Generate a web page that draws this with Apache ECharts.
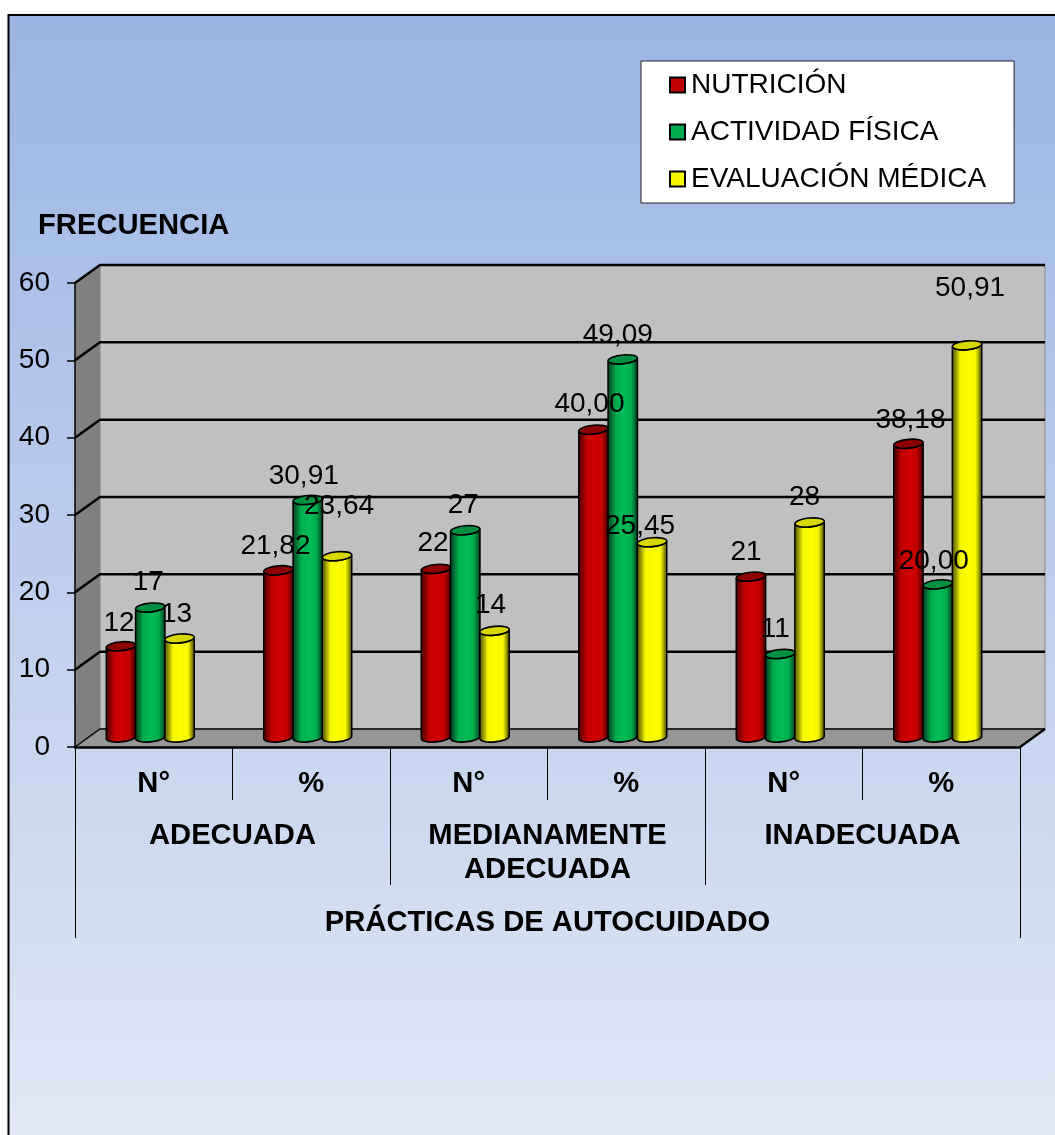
<!DOCTYPE html>
<html><head><meta charset="utf-8">
<style>html,body{margin:0;padding:0;background:#fff}#c{width:1055px;height:1135px}</style>
<script src="https://cdn.jsdelivr.net/npm/echarts@6/dist/echarts.min.js"></script>
</head><body><div id="c"></div>
<script>
const categories = ['N°','%','N°','%','N°','%'];
const groups = ['ADECUADA','MEDIANAMENTE\nADECUADA','INADECUADA'];
const axisTitle = ['PRÁCTICAS DE AUTOCUIDADO'];
const seriesNames = ['NUTRICIÓN','ACTIVIDAD FÍSICA','EVALUACIÓN MÉDICA'];
const nutricion = [12,21.82,22,40,21,38.18];
const actividad = [17,30.91,27,49.09,11,20];
const evaluacion = [13,23.64,14,25.45,28,50.91];
const yTicks = [10,20,30,40,50,60];

// styling tables (not data)
const FONT = '"Liberation Sans", Arial, sans-serif';
const looks = [
  {base:'#c00000', edge:'#6a0000', mid:'#d40000', cap:'#8e0000'},
  {base:'#00ad4e', edge:'#005c2c', mid:'#00bc58', cap:'#009040'},
  {base:'#f6f600', edge:'#7c7c00', mid:'#ffff00', cap:'#d8d800'}
];
const labelNudge = [
  [[-2,-23],[-3,-24],[-3,-26],[-4,-25],[-5,-24],[2,-23]],
  [[-2,-25],[-4,-24],[-2,-25],[-5,-24],[-5,-25],[-4,-23]],
  [[-3,-24],[2,-50],[-4,-25],[-12,-16],[-5,-25],[3,-57]]
];
const DEPTH_X = 25, DEPTH_Y = 18, BAR_SHIFT_X = -3.5, BAR_SHIFT_TOP = 8, BAR_SHIFT_BOT = 9.5;

function fmt(v, i){ return i % 2 ? v.toFixed(2).replace('.',',') : String(v); }

function wallItem(params, api){
  const r = params.coordSys;
  const x0=r.x, x1=r.x+r.width, top=r.y, bot=r.y+r.height;
  const poly=(pts,fill,stroke,lw)=>({type:'polygon',shape:{points:pts},style:{fill:fill,stroke:stroke||null,lineWidth:lw||0}});
  const line=(pts,lw)=>({type:'polyline',shape:{points:pts},style:{fill:null,stroke:'#000',lineWidth:lw}});
  return {type:'group',children:[
    poly([[x0+DEPTH_X,top-DEPTH_Y],[x1+DEPTH_X,top-DEPTH_Y],[x1+DEPTH_X,bot-DEPTH_Y],[x0+DEPTH_X,bot-DEPTH_Y]],'#c0c0c0','#8a8a8a',1),
    poly([[x0,top],[x0+DEPTH_X,top-DEPTH_Y],[x0+DEPTH_X,bot-DEPTH_Y],[x0,bot]],'#808080'),
    poly([[x0,bot],[x0+DEPTH_X,bot-DEPTH_Y],[x1+DEPTH_X,bot-DEPTH_Y],[x1,bot]],'#969696'),
    line([[x0,bot],[x0+DEPTH_X,bot-DEPTH_Y],[x1+DEPTH_X,bot-DEPTH_Y]],1.3),
    line([[x1+DEPTH_X,bot-DEPTH_Y],[x1,bot]],2.2)
  ]};
}
function gridItem(params, api){
  const r = params.coordSys;
  const y = api.coord([0, api.value(0)])[1];
  return {type:'polyline',shape:{points:[[r.x,y],[r.x+DEPTH_X,y-DEPTH_Y],[r.x+r.width+DEPTH_X,y-DEPTH_Y]]},
    style:{fill:null,stroke:'#000',lineWidth:2.5}};
}
function barItem(sIdx){
  return function(params, api){
    const i = api.value(0), v = api.value(1);
    const p = api.coord([i, v]), z = api.coord([i, 0]);
    const w = api.size([1,0])[0] * 0.186;
    const cx = p[0] + BAR_SHIFT_X + (sIdx-1)*w;
    const rx = w/2, ry = 4.4, tilt = 1.3, k = 0.552;
    const top = p[1]-BAR_SHIFT_TOP, bot = z[1]-BAR_SHIFT_BOT;
    // point on a sheared ellipse around (cx, cy)
    const P = (cy,u,v2) => (cx+u*rx).toFixed(2)+' '+(cy-u*tilt+v2*ry).toFixed(2);
    const lowerArc = cy => `C${P(cy,-1,k)} ${P(cy,-k,1)} ${P(cy,0,1)}C${P(cy,k,1)} ${P(cy,1,k)} ${P(cy,1,0)}`;
    const lowerArcBack = cy => `C${P(cy,1,k)} ${P(cy,k,1)} ${P(cy,0,1)}C${P(cy,-k,1)} ${P(cy,-1,k)} ${P(cy,-1,0)}`;
    const upperArcBack = cy => `C${P(cy,-1,-k)} ${P(cy,-k,-1)} ${P(cy,0,-1)}C${P(cy,k,-1)} ${P(cy,1,-k)} ${P(cy,1,0)}`;
    const bodyPath = `M${P(top,-1,0)}L${P(bot,-1,0)}${lowerArc(bot)}L${P(top,1,0)}${lowerArcBack(top)}Z`;
    const capPath = `M${P(top,-1,0)}${upperArcBack(top)}${lowerArcBack(top)}Z`;
    const L = looks[sIdx];
    const grad = new echarts.graphic.LinearGradient(0,0,1,0,[
      {offset:0,color:L.edge},{offset:0.1,color:L.edge},{offset:0.28,color:L.base},{offset:0.55,color:L.mid},{offset:0.78,color:L.base},{offset:0.92,color:L.edge},{offset:1,color:L.edge}]);
    const n = labelNudge[sIdx][i];
    return {type:'group',children:[
      {type:'path',shape:{pathData:bodyPath},style:{fill:grad,stroke:'#000',lineWidth:1.6}},
      {type:'path',shape:{pathData:capPath},style:{fill:L.cap,stroke:'#000',lineWidth:1.6}},
      {type:'text',z2:100,style:{text:fmt(v,i),x:cx+n[0],y:top+n[1],fill:'#000',font:'28px '+FONT,align:'center',verticalAlign:'middle'}}
    ]};
  };
}
const valuesBySeries = [nutricion, actividad, evaluacion];

const boldLabel = {color:'#000',fontFamily:FONT,fontWeight:'bold',fontSize:29.2,lineHeight:34};
const option = {
  animation:false,
  backgroundColor:'#fff',
  graphic:[{type:'rect',z:-10,silent:true,shape:{x:8.5,y:15,width:1060,height:1140},
    style:{stroke:'#000',lineWidth:2,fill:new echarts.graphic.LinearGradient(0,0,0,1,[{offset:0,color:'#9ab5e3'},{offset:1,color:'#e2e8f6'}])}}],
  title:{text:'FRECUENCIA',left:38,top:210,padding:0,textStyle:{color:'#000',fontFamily:FONT,fontWeight:'bold',fontSize:29.2,lineHeight:32}},
  legend:{
    left:641,top:61,orient:'vertical',align:'left',
    padding:[8,28,8,28],itemGap:15,itemWidth:15,itemHeight:15,
    backgroundColor:'#fff',borderColor:'#222',borderWidth:1,
    textStyle:{color:'#000',fontFamily:FONT,fontSize:28,lineHeight:32,padding:[0,0,0,1]},
    selectedMode:false,
    data:seriesNames.map((n,i)=>({name:n,icon:'rect',itemStyle:{color:looks[i].base,borderColor:'#000',borderWidth:2}}))
  },
  grid:{left:75,top:283,width:945,height:464,containLabel:false},
  xAxis:[
    {type:'category',data:categories,position:'bottom',z:5,
     axisLine:{lineStyle:{color:'#000',width:2.5}},
     axisTick:{show:true,length:53,lineStyle:{color:'#000',width:1}},
     axisLabel:{...boldLabel,margin:20,interval:0}},
    {type:'category',data:groups,position:'bottom',z:5,
     axisLine:{show:false},
     axisTick:{show:true,length:138,lineStyle:{color:'#000',width:1}},
     axisLabel:{...boldLabel,margin:72,interval:0}},
    {type:'category',data:axisTitle,position:'bottom',z:5,
     axisLine:{show:false},
     axisTick:{show:true,length:191,lineStyle:{color:'#000',width:1}},
     axisLabel:{...boldLabel,margin:159,interval:0}}
  ],
  yAxis:{type:'value',min:0,max:60,interval:10,z:5,
    axisLine:{show:true,lineStyle:{color:'#000',width:1.5}},
    axisTick:{show:true,length:8,lineStyle:{color:'#000',width:1.5}},
    axisLabel:{color:'#000',fontFamily:FONT,fontSize:28,margin:25},
    splitLine:{show:false}},
  series:[
    {type:'custom',name:'_walls',z:1,silent:true,data:[0],renderItem:wallItem,encode:{x:0}},
    {type:'custom',name:'_grid',z:1.5,silent:true,data:yTicks.map(v=>[v]),renderItem:gridItem,encode:{y:0}},
    ...seriesNames.map((n,s)=>({
      type:'custom',name:n,z:3,silent:true,
      itemStyle:{color:looks[s].base},
      data:valuesBySeries[s].map((v,i)=>[i,v]),
      renderItem:barItem(s),encode:{x:0,y:1}
    }))
  ]
};
const chart = echarts.init(document.getElementById('c'),null,{renderer:'canvas'});
chart.setOption(option);
</script></body></html>
